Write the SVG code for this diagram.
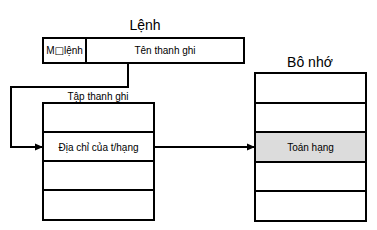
<svg xmlns="http://www.w3.org/2000/svg" width="377" height="230" viewBox="0 0 377 230">
<style>
.box{fill:#fff;stroke:#000;stroke-width:2}
.hl{fill:#dcdcdc;stroke:#000;stroke-width:2}
.t{font-family:"Liberation Sans",Arial,sans-serif;font-size:10px;fill:#000;text-anchor:middle}
.ti{font-family:"Liberation Sans",Arial,sans-serif;font-size:14px;fill:#000;text-anchor:middle}
.c{fill:none;stroke:#000;stroke-width:2}
.sq{font-family:"DejaVu Sans",sans-serif;font-size:10px}
</style>
<defs>
<marker id="ah" markerWidth="8" markerHeight="8" refX="7" refY="4" orient="auto" markerUnits="userSpaceOnUse">
<path d="M0,0.5 L8,4 L0,7.5 Z" fill="#000"/>
</marker>
</defs>
<rect width="377" height="230" fill="#fff"/>
<g id="lenh">
<text class="ti" x="145" y="30">Lệnh</text>
<rect class="box" x="43" y="38" width="201" height="25"/>
<line class="c" x1="86" y1="38" x2="86" y2="63"/>
<text class="t" x="64.5" y="54">M<tspan class="sq">□</tspan>lệnh</text>
<text class="t" x="165" y="54">Tên thanh ghi</text>
</g>
<g id="tapthanhghi">
<text class="t" x="98" y="100">Tập thanh ghi</text>
<rect class="box" x="43" y="103" width="111" height="117"/>
<line class="c" x1="43" y1="132" x2="154" y2="132"/>
<line class="c" x1="43" y1="161" x2="154" y2="161"/>
<line class="c" x1="43" y1="190" x2="154" y2="190"/>
<text class="t" x="98.5" y="151">Địa chỉ của t/hạng</text>
</g>
<g id="bonho">
<text class="ti" x="310" y="67">Bô nhớ</text>
<rect class="box" x="255" y="73" width="111" height="148"/>
<rect class="hl" x="255" y="132" width="111" height="30"/>
<line class="c" x1="255" y1="103" x2="366" y2="103"/>
<line class="c" x1="255" y1="191" x2="366" y2="191"/>
<text class="t" x="310.5" y="151">Toán hạng</text>
</g>
<g id="connectors">
<polyline class="c" points="128,63 128,87 11,87 11,147 42,147" marker-end="url(#ah)"/>
<line class="c" x1="154" y1="147" x2="254" y2="147" marker-end="url(#ah)"/>
</g>
</svg>
